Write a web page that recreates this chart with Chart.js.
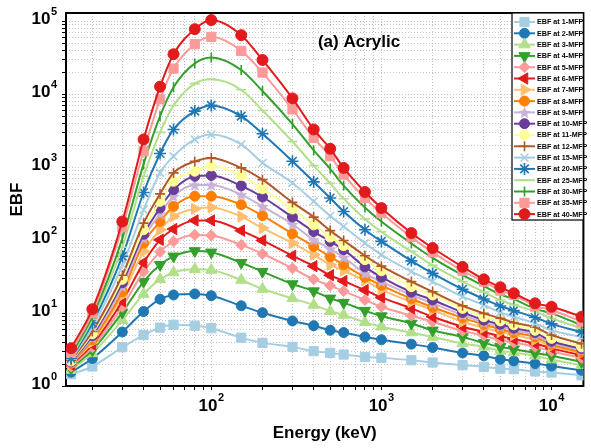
<!DOCTYPE html>
<html>
<head>
<meta charset="utf-8">
<script src="https://cdn.jsdelivr.net/npm/chart.js@4.4.1/dist/chart.umd.min.js"></script>
<style>
  html, body { margin: 0; padding: 0; background: #ffffff; }
  canvas { display: block; }
</style>
</head>
<body>
<canvas id="ebfChart" width="591" height="448"></canvas>
<script>
// Photon energies (keV)
const energies = [15, 20, 30, 40, 50, 60, 80, 100, 150, 200, 300, 400, 500, 600, 800,
                  1000, 1500, 2000, 3000, 4000, 5000, 6000, 8000, 10000, 15000];

// Exposure buildup factors of acrylic at each penetration depth (mfp)
const ebf1  = [1.45, 1.85, 3.4, 5.0, 6.3, 6.9, 6.7, 6.2, 4.6, 3.9, 3.44, 3.0, 2.84, 2.7, 2.5, 2.43, 2.26, 2.1, 1.93, 1.83, 1.73, 1.70, 1.58, 1.53, 1.40];
const ebf2  = [1.55, 2.38, 5.5, 10.5, 15.5, 17.7, 18.3, 17.3, 12.6, 10.1, 7.8, 6.7, 5.8, 5.4, 4.7, 4.3, 3.75, 3.37, 2.84, 2.59, 2.33, 2.21, 2.03, 1.88, 1.64];
const ebf3  = [1.65, 2.8, 8.0, 18.2, 29, 36, 40, 39, 28.4, 21.4, 15.9, 12.9, 10.6, 9.4, 7.45, 6.5, 5.4, 4.7, 3.83, 3.44, 3.03, 2.88, 2.59, 2.3, 1.93];
const ebf4  = [1.75, 3.1, 10.2, 27, 46, 60, 71, 68, 49, 37, 25, 20, 15.9, 13.9, 10.8, 9.1, 7.2, 5.8, 4.7, 3.9, 3.44, 3.2, 2.84, 2.6, 2.14];
const ebf5  = [1.85, 3.4, 12.2, 37, 69, 96, 118, 116, 86, 65, 41, 29, 23.8, 20, 15.1, 12.2, 9.2, 7.6, 5.7, 4.9, 4.25, 3.95, 3.44, 3.0, 2.43];
const ebf6  = [1.95, 3.7, 14.5, 49, 101, 142, 186, 186, 135, 99, 61, 44, 33, 27.5, 20.7, 16.4, 11.6, 8.9, 6.5, 5.5, 4.8, 4.4, 3.83, 3.3, 2.64];
const ebf7  = [2.0, 4.0, 17.5, 70, 139, 211, 269, 281, 210, 146, 91, 63, 46, 38, 28, 21, 14.2, 11, 7.6, 6.3, 5.5, 5.0, 4.3, 3.5, 2.84];
const ebf8  = [2.05, 4.3, 19.6, 91, 180, 290, 400, 400, 306, 216, 122, 82, 59, 46, 31, 24, 15.7, 12, 8.6, 7.0, 6.0, 5.4, 4.7, 3.7, 2.93];
const ebf9  = [2.1, 4.6, 23, 106, 230, 400, 570, 570, 420, 290, 165, 101, 76, 58, 35, 27, 17.7, 13.6, 9.4, 7.45, 6.5, 5.8, 5.0, 3.9, 3.1];
const ebf10 = [2.15, 4.9, 26, 120, 275, 492, 750, 770, 555, 390, 207, 131, 96, 74, 43, 31, 19.3, 15.1, 10.2, 8.0, 7.0, 6.2, 5.4, 4.1, 3.27];
const ebf11 = [2.2, 5.2, 29, 139, 340, 640, 880, 1040, 774, 505, 267, 162, 110, 84, 54, 38, 23, 17.7, 11.6, 8.9, 7.8, 6.9, 5.8, 4.5, 3.44];
const ebf12 = [2.25, 5.6, 33, 171, 430, 835, 1200, 1340, 977, 675, 329, 207, 135, 99, 61, 44, 27, 19.6, 12.6, 9.9, 8.5, 7.4, 6.4, 5.0, 3.8];
const ebf15 = [2.3, 6.4, 45, 260, 840, 1410, 2400, 2800, 2050, 1146, 608, 340, 215, 154, 91, 63, 37, 27, 16.8, 12.9, 10.2, 8.9, 7.2, 5.8, 4.7];
const ebf20 = [2.4, 7.3, 60, 450, 1540, 3290, 5870, 7030, 5010, 2870, 1205, 628, 378, 247, 139, 96, 52, 35, 21.2, 15.6, 12.5, 10.8, 8.7, 7.1, 5.5];
const ebf25 = [2.5, 8.2, 80, 750, 3000, 7000, 14000, 16000, 11500, 6000, 2250, 1050, 600, 370, 195, 130, 70, 45, 27, 19.5, 15, 13, 10.5, 8.5, 6.2];
const ebf30 = [2.7, 9.0, 105, 1100, 5000, 12500, 26500, 31900, 21500, 11070, 3900, 1700, 950, 560, 280, 180, 90, 57, 33, 23.5, 18, 15.5, 11.5, 9.9, 6.8];
const ebf35 = [2.95, 10.0, 150, 1650, 8500, 22500, 48600, 61200, 39300, 19800, 6200, 2530, 1413, 791, 378, 235, 110, 68, 38, 27, 20.3, 17.7, 12.5, 11, 7.6];
const ebf40 = [3.3, 11.3, 180, 2400, 12700, 35400, 78000, 104000, 64600, 29500, 8770, 3290, 1790, 977, 457, 275, 125, 78, 43, 29, 22.6, 18.7, 13.6, 12.2, 8.9];

const seriesNames = [
  'EBF at 1-MFP', 'EBF at 2-MFP', 'EBF at 3-MFP', 'EBF at 4-MFP', 'EBF at 5-MFP', 'EBF at 6-MFP',
  'EBF at 7-MFP', 'EBF at 8-MFP', 'EBF at 9-MFP', 'EBF at 10-MFP', 'EBF at 11-MFP', 'EBF at 12-MFP',
  'EBF at 15-MFP', 'EBF at 20-MFP', 'EBF at 25-MFP', 'EBF at 30-MFP', 'EBF at 35-MFP', 'EBF at 40-MFP'
];
const seriesValues = [ebf1, ebf2, ebf3, ebf4, ebf5, ebf6, ebf7, ebf8, ebf9, ebf10, ebf11, ebf12,
                      ebf15, ebf20, ebf25, ebf30, ebf35, ebf40];

// Decade exponents that carry a "10^n" label
const xTickExponents = [2, 3, 4];
const yTickExponents = [0, 1, 2, 3, 4, 5];

const titleText = '(a) Acrylic';
const xTitle = 'Energy (keV)';
const yTitle = 'EBF';

// Filled five-point star used as a marker
function makeStar(color, size) {
  const c = document.createElement('canvas');
  c.width = size; c.height = size;
  const g = c.getContext('2d');
  const cx = size / 2, cy = size / 2 + 0.6, ro = size / 2, ri = size / 4.6;
  g.beginPath();
  for (let k = 0; k < 10; k++) {
    const r = k % 2 === 0 ? ro : ri;
    const a = -Math.PI / 2 + k * Math.PI / 5;
    const px = cx + r * Math.cos(a), py = cy + r * Math.sin(a);
    if (k === 0) g.moveTo(px, py); else g.lineTo(px, py);
  }
  g.closePath();
  g.fillStyle = color;
  g.fill();
  return c;
}

const markerStyles = [
  { color: '#a6cee3', shape: 'rect', r: 6.5, rot: 0, stroke: false },
  { color: '#1f78b4', shape: 'circle', r: 5, rot: 0, stroke: false },
  { color: '#b2df8a', shape: 'triangle', r: 6.5, rot: 0, stroke: false },
  { color: '#33a02c', shape: 'triangle', r: 6.5, rot: 180, stroke: false },
  { color: '#fb9a99', shape: 'rectRot', r: 5.5, rot: 0, stroke: false },
  { color: '#e31a1c', shape: 'triangle', r: 6.5, rot: -90, stroke: false },
  { color: '#fdbf6f', shape: 'triangle', r: 6.5, rot: 90, stroke: false },
  { color: '#ff7f00', shape: 'circle', r: 5, rot: 0, stroke: false },
  { color: '#cab2d6', shape: makeStar('#cab2d6', 13), r: 6, rot: 0, stroke: false },
  { color: '#6a3d9a', shape: 'circle', r: 5, rot: 0, stroke: false },
  { color: '#ffff99', shape: 'circle', r: 5, rot: 0, stroke: false },
  { color: '#b15928', shape: 'cross', r: 5, rot: 0, stroke: true },
  { color: '#a6cee3', shape: 'crossRot', r: 5.5, rot: 0, stroke: true },
  { color: '#1f78b4', shape: 'star', r: 6, rot: 0, stroke: true },
  { color: '#b2df8a', shape: 'line', r: 5, rot: 0, stroke: true },
  { color: '#33a02c', shape: 'line', r: 5, rot: 90, stroke: true },
  { color: '#fb9a99', shape: 'rect', r: 6.5, rot: 0, stroke: false },
  { color: '#e31a1c', shape: 'circle', r: 5.5, rot: 0, stroke: false }
];

const n = seriesValues.length;
const datasets = seriesValues.map((vals, i) => {
  const s = markerStyles[i];
  return {
    label: seriesNames[i],
    data: energies.map((e, j) => ({ x: e, y: vals[j] })),
    borderColor: s.color,
    backgroundColor: s.color,
    borderWidth: 2,
    pointStyle: s.shape,
    pointRadius: s.r,
    pointRotation: s.rot,
    pointBorderWidth: s.stroke ? 1.6 : 1,
    pointBorderColor: s.color,
    pointBackgroundColor: s.color,
    cubicInterpolationMode: 'monotone',
    order: n - 1 - i
  };
});

const FONT = '"Liberation Sans", Arial, Helvetica, sans-serif';

function logTicks(min, max) {
  const out = [];
  for (let e = Math.floor(Math.log10(min)); e <= Math.ceil(Math.log10(max)); e++) {
    for (let m = 1; m <= 9; m++) {
      const v = m * Math.pow(10, e);
      if (v >= min * 0.9999 && v <= max * 1.0001) out.push({ value: v });
    }
  }
  return out;
}

function drawPower(ctx, exp, x, y, anchor) {
  ctx.font = 'bold 17px ' + FONT;
  const w1 = ctx.measureText('10').width;
  ctx.font = 'bold 11px ' + FONT;
  const w2 = ctx.measureText(String(exp)).width;
  const total = w1 + w2 + 0.5;
  let start = anchor === 'right' ? x - total : x - total / 2;
  ctx.fillStyle = '#000';
  ctx.textAlign = 'left';
  ctx.textBaseline = 'middle';
  ctx.font = 'bold 17px ' + FONT;
  ctx.fillText('10', start, y);
  ctx.font = 'bold 11px ' + FONT;
  ctx.fillText(String(exp), start + w1 + 0.5, y - 8);
}

const decorPlugin = {
  id: 'decor',
  beforeDatasetsDraw(chart) {
    const { ctx, chartArea: a } = chart;
    ctx.save();
    ctx.strokeStyle = '#000';
    ctx.lineWidth = 2;
    ctx.strokeRect(a.left, a.top, a.right - a.left, a.bottom - a.top);
    ctx.restore();
  },
  afterDraw(chart) {
    const { ctx, chartArea: a } = chart;
    const xs = chart.scales.x, ys = chart.scales.y;
    ctx.save();
    // decade labels
    xTickExponents.forEach(e => drawPower(ctx, e, xs.getPixelForValue(Math.pow(10, e)), 406, 'center'));
    yTickExponents.forEach(e => drawPower(ctx, e, 57, ys.getPixelForValue(Math.pow(10, e)) - 1.5, 'right'));

    // panel title
    ctx.font = 'bold 17px ' + FONT;
    ctx.fillStyle = '#000';
    ctx.textAlign = 'center';
    ctx.textBaseline = 'middle';
    ctx.fillText(titleText, 359, 42);

    // legend box
    const bx = 512, by = a.top, bw = a.right - 512, bh = 207;
    ctx.fillStyle = '#fff';
    ctx.fillRect(bx, by, bw, bh);
    ctx.strokeStyle = '#000';
    ctx.lineWidth = 1.2;
    ctx.strokeRect(bx, by, bw, bh);
    chart.data.datasets.forEach((ds, i) => {
      const y = by + 9 + i * 11.3;
      const s = markerStyles[i];
      ctx.strokeStyle = s.color;
      ctx.lineWidth = 2;
      ctx.beginPath();
      ctx.moveTo(bx + 2, y);
      ctx.lineTo(bx + 23, y);
      ctx.stroke();
      ctx.fillStyle = s.color;
      ctx.strokeStyle = s.color;
      ctx.lineWidth = s.stroke ? 1.6 : 1;
      Chart.helpers.drawPoint(ctx, {
        pointStyle: s.shape, rotation: s.rot, radius: s.r, borderWidth: s.stroke ? 1.6 : 1
      }, bx + 12.5, y);
      ctx.fillStyle = '#000';
      ctx.font = 'bold 7.2px ' + FONT;
      ctx.textAlign = 'left';
      ctx.textBaseline = 'middle';
      ctx.fillText(ds.label, bx + 25, y + 0.5);
    });
    ctx.restore();
  }
};

const gridCommon = {
  color: '#c4c4c4',
  lineWidth: 1,
  drawTicks: true,
  tickLength: 4,
  tickColor: '#000',
  tickWidth: 1
};

new Chart(document.getElementById('ebfChart'), {
  type: 'line',
  data: { datasets },
  plugins: [decorPlugin],
  options: {
    responsive: false,
    animation: false,
    devicePixelRatio: 1,
    layout: { padding: { top: 13, right: 2, left: 0, bottom: 0 } },
    plugins: { legend: { display: false }, tooltip: { enabled: false } },
    scales: {
      x: {
        type: 'logarithmic',
        min: 14,
        max: 15390,
        afterBuildTicks: s => { s.ticks = logTicks(14, 15390); },
        afterFit: s => { s.height = 62; },
        ticks: { display: false },
        grid: gridCommon,
        border: { display: false, dash: [1, 2] },
        title: {
          display: true, text: xTitle, color: '#000',
          font: { family: FONT, size: 17, weight: 'bold' },
          padding: { top: 0, bottom: 4 }
        }
      },
      y: {
        type: 'logarithmic',
        min: 1,
        max: 130000,
        afterBuildTicks: s => { s.ticks = logTicks(1, 130000); },
        afterFit: s => { s.width = 66; },
        ticks: { display: false },
        grid: gridCommon,
        border: { display: false, dash: [1, 2] },
        title: {
          display: true, text: yTitle, color: '#000',
          font: { family: FONT, size: 17, weight: 'bold' },
          padding: { top: 7, bottom: 0 }
        }
      }
    }
  }
});
</script>
</body>
</html>
